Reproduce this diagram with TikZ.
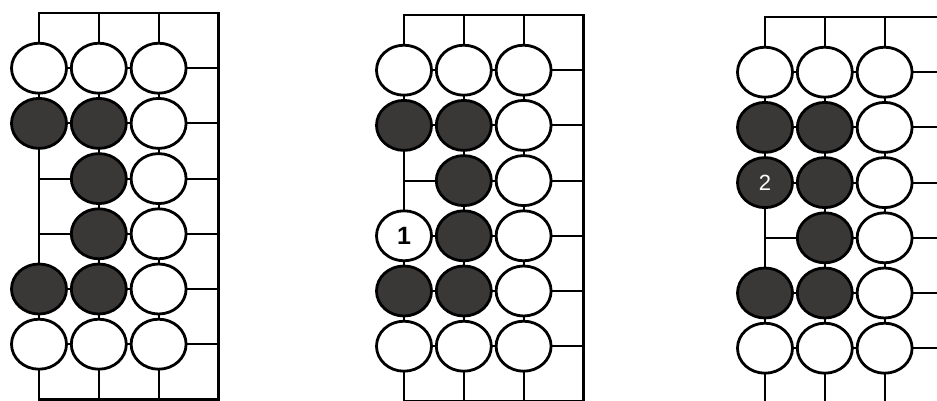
\documentclass[tikz,border=0pt]{standalone}
\usepackage{fontspec}
\setsansfont{Liberation Sans}
\usepackage{tikz}
\usetikzlibrary{shapes.geometric}
\definecolor{blackstone}{RGB}{58, 55, 55}

\begin{document}
\begin{tikzpicture}[x=1pt, y=-1pt,
    grid line/.style={line width=2.2pt},
    white stone/.style={ellipse, draw, line width=2.8pt, fill=white,
        minimum width=55pt, minimum height=50pt, inner sep=0pt},
    black stone/.style={white stone, fill=blackstone},
    move/.style={font=\sffamily\fontsize{25}{25}\selectfont}]
    \def\dx{59.8}
    \def\dy{55.2}
    \useasboundingbox (0,0) rectangle (937,401);
    \clip (0,0) rectangle (937,401);

    % Board A
    \begin{scope}[shift={(39,13)}, x=\dx pt, y=-\dy pt]
        \draw[grid line] (0,0) rectangle (3,7);
        \foreach \c in {1,2} \draw[grid line] (\c,0) -- (\c,7);
        \foreach \r in {1,...,6} \draw[grid line] (0,\r) -- (3,\r);
        \foreach \c/\r in {0/1,1/1,2/1,2/2,2/3,2/4,2/5,0/6,1/6,2/6}
            \node[white stone] (a-\c-\r) at (\c,\r) {};
        \foreach \c/\r in {0/2,1/2,1/3,1/4,0/5,1/5}
            \node[black stone] (a-\c-\r) at (\c,\r) {};
    \end{scope}

    % Board B
    \begin{scope}[shift={(404,15)}, x=\dx pt, y=-\dy pt]
        \draw[grid line] (0,0) rectangle (3,7);
        \foreach \c in {1,2} \draw[grid line] (\c,0) -- (\c,7);
        \foreach \r in {1,...,6} \draw[grid line] (0,\r) -- (3,\r);
        \foreach \c/\r in {0/1,1/1,2/1,2/2,2/3,2/4,2/5,0/6,1/6,2/6}
            \node[white stone] (b-\c-\r) at (\c,\r) {};
        \foreach \c/\r in {0/2,1/2,1/3,1/4,0/5,1/5}
            \node[black stone] (b-\c-\r) at (\c,\r) {};
        \node[white stone, move] (b-0-4) at (0,4) {\bfseries 1};
    \end{scope}

    % Board C
    \begin{scope}[shift={(765,17)}, x=\dx pt, y=-\dy pt]
        \draw[grid line] (0,0) rectangle (3,7);
        \foreach \c in {1,2} \draw[grid line] (\c,0) -- (\c,7);
        \foreach \r in {1,...,6} \draw[grid line] (0,\r) -- (3,\r);
        \foreach \c/\r in {0/1,1/1,2/1,2/2,2/3,2/4,2/5,0/6,1/6,2/6}
            \node[white stone] (c-\c-\r) at (\c,\r) {};
        \foreach \c/\r in {0/2,1/2,1/3,1/4,0/5,1/5}
            \node[black stone] (c-\c-\r) at (\c,\r) {};
        \node[black stone, move, text=white, font=\sffamily\fontsize{22}{22}\selectfont] (c-0-3) at (0,3) {2};
    \end{scope}
\end{tikzpicture}
\end{document}
